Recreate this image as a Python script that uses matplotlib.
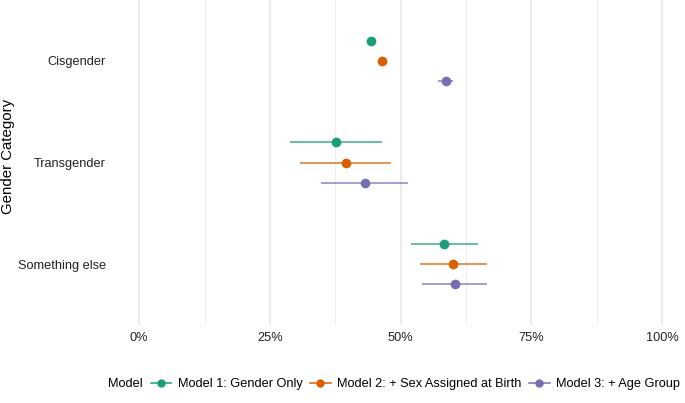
import matplotlib
matplotlib.use("Agg")
import matplotlib.pyplot as plt
from matplotlib.lines import Line2D
from matplotlib.ticker import FixedLocator

plt.rcParams['font.family'] = ['Liberation Sans', 'DejaVu Sans']

categories = ["Cisgender", "Transgender", "Something else"]
models = ["Model 1: Gender Only", "Model 2: + Sex Assigned at Birth", "Model 3: + Age Group"]
colors = ["#1B9E77", "#D95F02", "#7570B3"]

estimate = {
    models[0]: [0.444, 0.377, 0.583],
    models[1]: [0.465, 0.395, 0.601],
    models[2]: [0.586, 0.431, 0.603],
}
lower = {
    models[0]: [0.439, 0.289, 0.519],
    models[1]: [0.460, 0.307, 0.537],
    models[2]: [0.572, 0.347, 0.541],
}
upper = {
    models[0]: [0.449, 0.464, 0.648],
    models[1]: [0.470, 0.482, 0.666],
    models[2]: [0.601, 0.514, 0.666],
}
x_ticks = [0, 0.25, 0.5, 0.75, 1.0]
x_tick_labels = ["0%", "25%", "50%", "75%", "100%"]

W, H = 685, 403
fig = plt.figure(figsize=(W / 100, H / 100), dpi=100)
ax = fig.add_axes([113 / W, (H - 325) / H, 1.09 * 523 / W, 325 / H])

offsets = [-0.2, 0.0, 0.2]
for m, c, off in zip(models, colors, offsets):
    ys = [i + off for i in range(len(categories))]
    for y, lo, hi in zip(ys, lower[m], upper[m]):
        ax.plot([lo, hi], [y, y], color=c, lw=1.1, alpha=0.85, solid_capstyle='butt', zorder=2)
    ax.plot(estimate[m], ys, 'o', color=c, ms=7, mec='none', zorder=3)

ax.set_xlim(-0.05, 1.04)
ax.set_ylim(2.6, -0.6)
ax.xaxis.set_major_locator(FixedLocator(x_ticks))
ax.set_xticklabels(x_tick_labels)
ax.xaxis.set_minor_locator(FixedLocator([0.125, 0.375, 0.625, 0.875]))
ax.set_yticks(range(len(categories)))
ax.set_yticklabels(categories)
ax.grid(axis='x', which='major', color='#E6E6E6', lw=1.1, zorder=0)
ax.grid(axis='x', which='minor', color='#EDEDED', lw=0.7, zorder=0)
ax.set_axisbelow(True)
for s in ax.spines.values():
    s.set_visible(False)
ax.tick_params(axis='both', which='both', length=0, labelsize=9.2, colors='#222222')
ax.tick_params(axis='x', pad=5)
ax.tick_params(axis='y', pad=5)

fig.text(8 / W, 1 - 156 / H, "Gender Category", rotation=90, ha='center', va='center', fontsize=10.8, color='black')

fig.text(108 / W, 1 - 384 / H, "Model", ha='left', va='center', fontsize=9.2)
handles = [Line2D([0], [0], color=c, lw=1.1, marker='o', ms=6, mec='none') for c in colors]
fig.legend(handles, models, loc='center left', bbox_to_anchor=(151 / W, 1 - 384 / H), ncol=3,
           frameon=False, fontsize=9.2, handlelength=1.6, handletextpad=0.5, columnspacing=0.6,
           borderpad=0, borderaxespad=0)

fig.savefig("out.png", dpi=100)
